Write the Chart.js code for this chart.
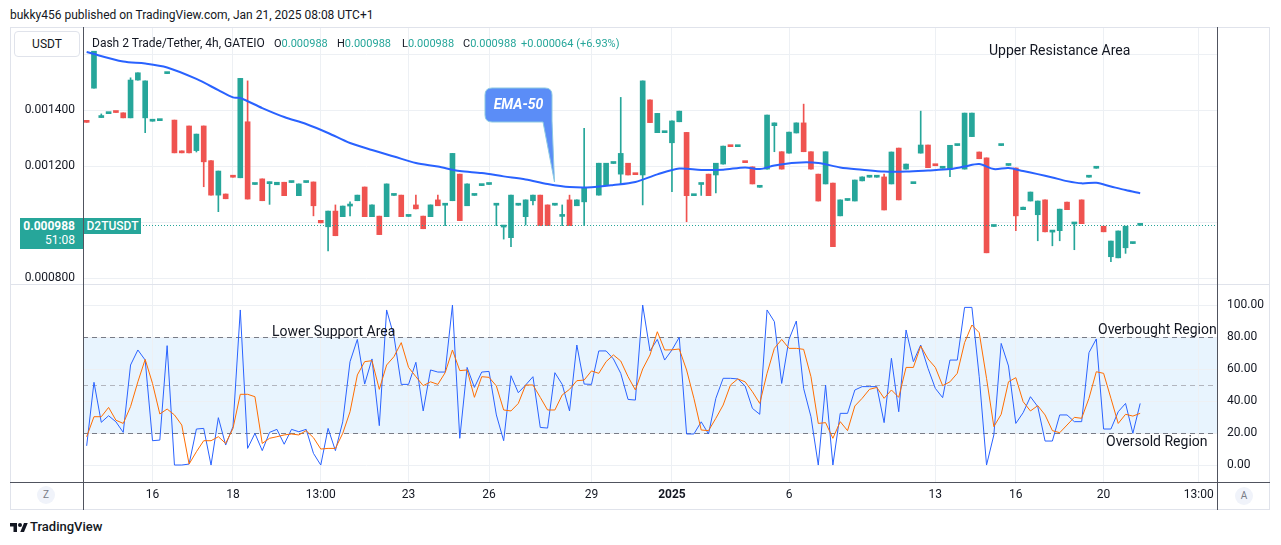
<!DOCTYPE html>
<html lang="en">
<head>
<meta charset="utf-8">
<title>D2TUSDT 4h</title>
<script src="https://cdn.jsdelivr.net/npm/chart.js@4.4.1/dist/chart.umd.min.js"></script>
<style>
  html, body { margin: 0; padding: 0; background: #fff; }
  body { position: relative; width: 1281px; height: 545px; overflow: hidden;
         font-family: Roboto, "Noto Sans", Arial, sans-serif; color: #131722; }
  .abs { position: absolute; white-space: nowrap; }
  canvas { position: absolute; }
  .ln { position: absolute; }
  .title { left: 10px; top: 7px; font-size: 12px; line-height: 16px; }
  .usdt { left: 14px; top: 31px; width: 64px; height: 24px; border: 1px solid #e0e3eb; border-radius: 4px;
          background: #fff; font-size: 12px; line-height: 24px; text-align: center; z-index: 3; }
  .legend { top: 35px; font-size: 12px; line-height: 16px; z-index: 3; }
  .legend.val { font-size: 11px; }
  .legend b { font-weight: normal; color: #26a69a; }
  .note { font-size: 14px; line-height: 16px; z-index: 3; }
  .pill { width: 18px; height: 18px; border-radius: 50%; background: #f0f3fa; color: #787b86;
          font-size: 10px; line-height: 18px; text-align: center; z-index: 3; }
  .last { left: 20px; top: 218px; width: 55px; height: 30px; padding-right: 8px; background: #26a69a;
          color: #fff; text-align: right; font-size: 12px; line-height: 14px; padding-top: 1px; box-sizing: content-box; z-index: 3; }
  .sym { left: 84px; top: 218px; width: 57px; height: 16px; background: #26a69a; color: #fff;
         font-size: 12px; font-weight: 500; line-height: 16px; text-align: center; z-index: 3; }
  .foot { left: 30px; top: 519px; font-size: 13px; font-weight: 500; line-height: 16px; }
</style>
</head>
<body>

<div class="abs title">bukky456 published on TradingView.com, Jan 21, 2025 08:08 UTC+1</div>

<canvas id="price" width="1260" height="256" style="left:10px;top:28px"></canvas>
<canvas id="stoch" width="1260" height="225" style="left:10px;top:285px"></canvas>

<!-- frame and axis lines -->
<div class="ln" style="left:10px;top:27px;width:1260px;height:1px;background:#e0e3eb"></div>
<div class="ln" style="left:10px;top:509px;width:1260px;height:1px;background:#e0e3eb"></div>
<div class="ln" style="left:10px;top:27px;width:1px;height:483px;background:#e0e3eb"></div>
<div class="ln" style="left:1269px;top:27px;width:1px;height:483px;background:#e0e3eb"></div>
<div class="ln" style="left:10px;top:284px;width:1260px;height:1px;background:#e0e3eb"></div>
<div class="ln" style="left:83px;top:27px;width:1px;height:483px;background:#50535e"></div>
<div class="ln" style="left:1217px;top:27px;width:1px;height:483px;background:#50535e"></div>
<div class="ln" style="left:10px;top:482px;width:1260px;height:1px;background:#50535e"></div>

<div class="abs usdt">USDT</div>
<div class="abs legend" style="left:92px">Dash 2 Trade/Tether, 4h, GATEIO</div>
<div class="abs legend val" style="left:274px;top:35.5px">O<b>0.000988</b></div>
<div class="abs legend val" style="left:337px;top:35.5px">H<b>0.000988</b></div>
<div class="abs legend val" style="left:402px;top:35.5px">L<b>0.000988</b></div>
<div class="abs legend val" style="left:463px;top:35.5px">C<b>0.000988</b></div>
<div class="abs legend val" style="left:521px;top:35.5px"><b>+0.000064 (+6.93%)</b></div>

<div class="abs last"><div style="font-weight:bold">0.000988</div><div>51:08</div></div>
<div class="abs sym">D2TUSDT</div>

<div class="abs note" style="left:989px;top:42px">Upper Resistance Area</div>
<div class="abs note" style="left:272px;top:323px">Lower Support Area</div>
<div class="abs note" style="left:1098px;top:321px">Overbought Region</div>
<div class="abs note" style="left:1106px;top:433px">Oversold Region</div>

<div class="abs pill" style="left:37px;top:486px">Z</div>
<div class="abs pill" style="left:1235px;top:487px">A</div>

<svg class="abs" style="left:0;top:0;z-index:2" width="1281" height="545">
  <path d="M492,88 H545 Q552,88 552,95 V121 L554.5,182 L543,122 H492 Q485,122 485,115 V95 Q485,88 492,88 Z"
        fill="#5b8df7" stroke="#8cc9e2" stroke-width="1"/>
  <text x="518.5" y="109" fill="#fff" font-family="Roboto, sans-serif" font-size="14" font-weight="bold"
        font-style="italic" text-anchor="middle">EMA-50</text>
  <g transform="translate(10,521) scale(0.5)" fill="#131722">
    <path d="M14 22H7V11H0V4h14z"/><circle cx="20" cy="8" r="4"/><path d="M28 22h-7.5l7.5-18h7.5z"/>
  </g>
</svg>
<div class="abs foot">TradingView</div>

<script>
// time axis: [bar slot, label]
const timeTicks = [[9,'16'],[20,'18'],[32,'13:00'],[44,'23'],[55,'26'],[69,'29'],[80,'2025'],[96,'6'],[116,'13'],[127,'16'],[139,'20'],[152,'13:00']];

// 4h candles, D2T/USDT (slot 69 has no bar)
const open = [
  0.001359,0.001478,0.001373,0.001387,0.001393,0.001390,0.001372,0.001507,0.001372,0.001360,
  0.001362,0.001530,0.001364,0.001254,0.001343,0.001255,0.001343,0.001219,0.001096,0.001100,
  0.001162,0.001158,0.001358,0.001134,0.001154,0.001137,0.001133,0.001142,0.001141,0.001094,
  0.001141,0.001143,0.001006,0.000983,0.001039,0.001019,0.001057,0.001076,0.001125,0.001019,
  0.001021,0.001019,0.001095,0.001096,0.001020,0.001061,0.001021,0.001019,0.001079,0.001060,
  0.001076,0.001171,0.001058,0.001095,0.001130,0.001134,0.001060,0.000982,0.000944,0.001060,
  0.001019,0.001076,0.001096,0.001061,0.001060,0.001020,0.001079,0.001058,0.001072,null,
  0.001096,0.001130,0.001209,0.001171,0.001210,0.001171,0.001168,0.001436,0.001319,0.001319,
  0.001283,0.001358,0.001320,0.001094,0.001134,0.001171,0.001168,0.001207,0.001271,0.001269,
  0.001214,0.001197,0.001124,0.001189,0.001344,0.001251,0.001246,0.001318,0.001354,0.001251,
  0.001171,0.001136,0.001139,0.001022,0.001077,0.001075,0.001147,0.001160,0.001160,0.001161,
  0.001136,0.001264,0.001189,0.001137,0.001246,0.001275,0.001203,0.001192,0.001189,0.001273,
  0.001189,0.001305,0.001250,0.001229,0.000984,0.001273,0.001202,0.001193,0.001044,0.001075,
  0.001026,0.001079,0.000964,0.000969,0.001071,0.000993,0.001079,0.001160,0.001192,0.000985,
  0.000876,0.000872,0.000908,0.000923,0.000988
];
const high = [
  0.001359,0.001610,0.001386,0.001389,0.001393,0.001390,0.001515,0.001533,0.001504,0.001362,
  0.001364,0.001532,0.001364,0.001254,0.001343,0.001314,0.001343,0.001219,0.001182,0.001100,
  0.001162,0.001513,0.001504,0.001136,0.001154,0.001143,0.001142,0.001142,0.001143,0.001136,
  0.001143,0.001143,0.001006,0.001039,0.001061,0.001057,0.001072,0.001096,0.001125,0.001061,
  0.001021,0.001136,0.001097,0.001096,0.001022,0.001096,0.001021,0.001061,0.001096,0.001062,
  0.001245,0.001171,0.001136,0.001097,0.001132,0.001136,0.001062,0.000984,0.001096,0.001062,
  0.001079,0.001096,0.001096,0.001061,0.001062,0.001061,0.001096,0.001079,0.001335,null,
  0.001210,0.001210,0.001211,0.001445,0.001210,0.001171,0.001504,0.001436,0.001388,0.001321,
  0.001361,0.001396,0.001320,0.001096,0.001136,0.001171,0.001210,0.001271,0.001271,0.001271,
  0.001214,0.001197,0.001126,0.001382,0.001354,0.001251,0.001321,0.001354,0.001421,0.001251,
  0.001171,0.001251,0.001139,0.001079,0.001079,0.001150,0.001161,0.001162,0.001162,0.001171,
  0.001250,0.001264,0.001207,0.001139,0.001396,0.001275,0.001203,0.001194,0.001274,0.001275,
  0.001389,0.001389,0.001250,0.001229,0.000986,0.001275,0.001204,0.001193,0.001053,0.001107,
  0.001075,0.001079,0.000966,0.001046,0.001071,0.000995,0.001079,0.001162,0.001194,0.000985,
  0.000932,0.000968,0.000985,0.000924,0.000988
];
const low = [
  0.001356,0.001478,0.001373,0.001387,0.001391,0.001372,0.001372,0.001507,0.001319,0.001360,
  0.001362,0.001530,0.001247,0.001247,0.001247,0.001250,0.001126,0.001096,0.001037,0.001083,
  0.001160,0.001158,0.001082,0.001134,0.001076,0.001063,0.001133,0.001094,0.001141,0.001094,
  0.001141,0.001022,0.000997,0.000897,0.000951,0.001019,0.001022,0.001076,0.001019,0.001019,
  0.000955,0.001019,0.001095,0.001019,0.001020,0.001047,0.000976,0.001019,0.001058,0.000987,
  0.001076,0.001005,0.001058,0.001095,0.001130,0.001134,0.000987,0.000939,0.000912,0.001060,
  0.000989,0.001061,0.000987,0.000987,0.001060,0.000987,0.000987,0.001058,0.000987,null,
  0.001096,0.001130,0.001209,0.001136,0.001168,0.001169,0.001061,0.001355,0.001319,0.001319,
  0.001108,0.001358,0.001001,0.001094,0.001095,0.001094,0.001104,0.001207,0.001269,0.001269,
  0.001212,0.001136,0.001124,0.001189,0.001251,0.001189,0.001246,0.001318,0.001251,0.001189,
  0.001075,0.001136,0.000912,0.001022,0.001077,0.001075,0.001147,0.001160,0.001160,0.001043,
  0.001136,0.001079,0.001189,0.001137,0.001246,0.001194,0.001201,0.001192,0.001162,0.001273,
  0.001189,0.001305,0.001226,0.000890,0.000984,0.001273,0.001202,0.000969,0.001044,0.001075,
  0.000933,0.000965,0.000915,0.000933,0.001044,0.000901,0.000994,0.001160,0.001192,0.000965,
  0.000858,0.000872,0.000888,0.000923,0.000988
];
const close = [
  0.001356,0.001610,0.001375,0.001389,0.001391,0.001372,0.001507,0.001533,0.001504,0.001362,
  0.001364,0.001532,0.001247,0.001247,0.001247,0.001314,0.001215,0.001096,0.001182,0.001083,
  0.001160,0.001513,0.001082,0.001136,0.001076,0.001139,0.001142,0.001094,0.001143,0.001136,
  0.001143,0.001058,0.000997,0.001039,0.000951,0.001057,0.001059,0.001096,0.001019,0.001061,
  0.000955,0.001136,0.001097,0.001019,0.001022,0.001047,0.000976,0.001061,0.001058,0.001062,
  0.001245,0.001005,0.001136,0.001097,0.001132,0.001136,0.001062,0.000984,0.001096,0.001062,
  0.001079,0.001096,0.000987,0.000987,0.001062,0.001022,0.000987,0.001079,0.001122,null,
  0.001210,0.001210,0.001211,0.001245,0.001168,0.001169,0.001504,0.001355,0.001388,0.001321,
  0.001361,0.001396,0.001094,0.001096,0.001136,0.001094,0.001210,0.001271,0.001269,0.001271,
  0.001212,0.001136,0.001126,0.001382,0.001354,0.001189,0.001321,0.001354,0.001251,0.001189,
  0.001075,0.001251,0.000912,0.001079,0.001079,0.001150,0.001161,0.001162,0.001162,0.001043,
  0.001250,0.001079,0.001207,0.001139,0.001275,0.001194,0.001201,0.001194,0.001274,0.001275,
  0.001389,0.001389,0.001226,0.000890,0.000986,0.001275,0.001204,0.001022,0.001053,0.001107,
  0.001075,0.000965,0.000966,0.001046,0.001044,0.000995,0.000994,0.001162,0.001194,0.000965,
  0.000932,0.000968,0.000985,0.000924,0.000988
];

// EMA-50 read at these bar slots
const emaSlots = [0,5,8,11,15,18,20,21,24,27,30,33,36,39,42,45,48,51,54,57,60,63,66,69,72,75,78,81,84,87,90,92,94,97,100,103,106,109,112,115,118,120,122,124,126,128,130,132,134,136,138,140,142,144];
const emaValues = [
  0.001607,0.001573,0.001566,0.001552,0.001511,0.001471,0.001445,0.001443,0.001407,0.001375,
  0.001350,0.001318,0.001282,0.001257,0.001234,0.001211,0.001198,0.001182,0.001175,0.001163,
  0.001152,0.001136,0.001125,0.001124,0.001132,0.001143,0.001170,0.001191,0.001186,0.001187,
  0.001195,0.001189,0.001202,0.001212,0.001211,0.001195,0.001187,0.001180,0.001180,0.001184,
  0.001189,0.001198,0.001207,0.001189,0.001193,0.001182,0.001171,0.001159,0.001146,0.001138,
  0.001140,0.001127,0.001114,0.001103
];

// stochastic oscillator, one value per bar slot
const stochK = [
  12,51.7,26.7,30.8,27,20.4,62.5,71.9,65.6,15.2,
  15.6,74.6,0,0,0.6,22.5,22.9,0,29.6,12.5,
  24,96.9,10.4,19.8,9,20.4,22.3,13,22.3,20.8,
  22.3,7.3,0,22.9,9,27,64.6,78.5,50.6,66.3,
  24.6,96.9,80.6,50.4,50.4,64.2,33.8,59.4,58.1,58.1,
  100,16.7,61,48.5,58.1,58.5,31.3,15.2,55.8,45.2,
  50,55.2,23.5,23.1,57.7,50.4,33.8,75,50.6,50.4,
  71.3,71.3,66.3,57.3,41,40.6,100,71.3,78.5,65.6,
  71.9,79.8,19.4,19.4,27,19.4,41.7,54.2,54.2,53.8,
  49.4,35.4,31.7,96.9,89.6,51,78.5,90,47.9,30.2,
  0,50,0,32.3,32.3,46.9,49,49,49,26.5,
  66.7,33.3,84.4,64.6,75,60.4,47.9,42.1,65.6,65.6,
  98.5,98.5,55.2,0,18.8,76,61.9,26,32.7,42.7,
  36.5,15,15,31.3,31.3,27.1,27.1,70.2,78.8,22.5,
  22.5,33.3,38.5,19.8,38.5
];
const stochD = [
  17.7,30.2,30.2,36,28,26,36.5,52,66,51,
  31.9,35,31.3,25,0.6,8.3,15.2,15.2,17.7,13.5,
  22.9,44.2,44.2,42.7,13.5,16.7,17.7,18.8,19.4,18.8,
  21.5,17.1,10,10.4,10.4,19.8,33.3,56.3,64.6,65.2,
  47.3,62.5,67.7,76.5,61,55.2,49.6,52,50.4,57.7,
  71.9,59,59.4,42.3,55.2,54.8,49.4,34.4,33.8,38.5,
  50,50,42.3,34.4,34.4,43.8,47.3,52.7,53.1,58.8,
  57.3,64.6,68.8,65,55.2,46.9,60,68.8,83.3,71.9,
  72,72.5,59.4,41.7,21.9,21.5,29.2,37.5,50,53.8,
  52,45.8,38.5,57.3,72.9,78.5,72.9,72.9,72.3,55.2,
  26,26.5,16.7,27.1,21.5,36.9,41.7,47.3,48.5,41.7,
  46.9,42.3,61,61,74.4,66.3,61,49.6,52,57.3,
  76.5,87.5,82.7,54.2,24,31.7,52,54.6,39.6,33.8,
  37.1,31.3,21.5,20.2,25,29.8,29.2,41.7,58.3,57.3,
  41.7,26,31.7,30.6,32.3
];

const priceTicks = [0.0008, 0.0010, 0.0012, 0.0014, 0.0016];
const priceTickText = ['0.000800', '', '0.001200', '0.001400', ''];
const stochTicks = [0, 20, 40, 60, 80, 100];
const stochLevels = [80, 50, 20];

const SLOTS = 155;              // bars that fit the visible range, incl. right margin
const UP = '#26a69a', DOWN = '#ef5350';
const GRID = '#edf0f4';

Chart.defaults.font.family = 'Roboto, "Noto Sans", sans-serif';
Chart.defaults.color = '#131722';

const labels = Array.from({length: SLOTS}, () => '');
timeTicks.forEach(([i, t]) => { labels[i] = t; });
const tickSlots = timeTicks.map(t => t[0]);

const bodies = open.map((o, i) => o == null ? null : [o, close[i]]);
const wicks = open.map((o, i) => o == null ? null : [low[i], high[i]]);
const colors = open.map((o, i) => close[i] >= o ? UP : DOWN);

const emaData = labels.map(() => null);
emaSlots.forEach((s, i) => { emaData[s] = emaValues[i]; });

const lastClose = close[close.length - 1];

function timeAxis(showLabels){
  return {
    offset: true,
    grid: { offset: false, color: GRID, drawTicks: false },
    border: { display: false },
    ticks: {
      display: showLabels, autoSkip: false, maxRotation: 0, padding: 6,
      font: ctx => ({ size: 12, weight: ctx.tick && ctx.tick.label === '2025' ? 'bold' : 'normal' })
    },
    afterBuildTicks: s => { s.ticks = tickSlots.map(v => ({ value: v })); },
    afterFit: s => { s.height = showLabels ? 28 : 0; s.paddingLeft = 0; s.paddingRight = 0; }
  };
}

// dotted line at the last close
const lastPriceLine = {
  id: 'lastPriceLine',
  afterDatasetsDraw(c){
    const {ctx, chartArea, scales} = c;
    const y = Math.round(scales.y.getPixelForValue(lastClose)) + 0.5;
    ctx.save();
    ctx.strokeStyle = UP;
    ctx.lineWidth = 1;
    ctx.setLineDash([1, 2]);
    ctx.beginPath();
    ctx.moveTo(chartArea.left, y);
    ctx.lineTo(chartArea.right, y);
    ctx.stroke();
    ctx.restore();
  }
};

// shaded 20-80 band and dashed level lines
const stochBands = {
  id: 'stochBands',
  beforeDraw(c){
    const {ctx, chartArea: a, scales: {y}} = c;
    const top = y.getPixelForValue(stochLevels[0]);
    const bot = y.getPixelForValue(stochLevels[2]);
    ctx.save();
    ctx.fillStyle = 'rgba(33,150,243,0.1)';
    ctx.fillRect(a.left, top, a.right - a.left, bot - top);
    ctx.restore();
  },
  beforeDatasetsDraw(c){
    const {ctx, chartArea: a, scales: {y}} = c;
    ctx.save();
    ctx.lineWidth = 1;
    ctx.setLineDash([5, 4]);
    stochLevels.forEach(v => {
      const py = Math.round(y.getPixelForValue(v)) + 0.5;
      ctx.strokeStyle = v === 50 ? '#b2b5be' : '#787b86';
      ctx.beginPath();
      ctx.moveTo(a.left, py);
      ctx.lineTo(a.right, py);
      ctx.stroke();
    });
    ctx.restore();
  }
};

new Chart(document.getElementById('price'), {
  type: 'bar',
  data: {
    labels,
    datasets: [
      { type: 'line', label: 'EMA-50', data: emaData, borderColor: '#2962ff', borderWidth: 2,
        pointRadius: 0, spanGaps: true, tension: 0.3, order: 0 },
      { label: 'body', data: bodies, backgroundColor: colors, barThickness: 5, minBarLength: 2,
        grouped: false, order: 1 },
      { label: 'wick', data: wicks, backgroundColor: colors, barThickness: 1, grouped: false, order: 2 }
    ]
  },
  options: {
    responsive: false,
    animation: false,
    layout: { padding: { left: 0, right: 53, top: 0, bottom: 0 } },
    plugins: { legend: { display: false }, tooltip: { enabled: false } },
    scales: {
      x: timeAxis(false),
      y: {
        position: 'left',
        min: 0.0007786,
        max: 0.0016929,
        grid: { color: GRID, drawTicks: false },
        border: { display: false },
        ticks: { padding: 8, font: { size: 12 }, callback: (v, i) => priceTickText[i] },
        afterBuildTicks: s => { s.ticks = priceTicks.map(v => ({ value: v })); },
        afterFit: s => { s.width = 73; s.paddingTop = 0; s.paddingBottom = 0; }
      }
    }
  },
  plugins: [lastPriceLine]
});

new Chart(document.getElementById('stoch'), {
  type: 'line',
  data: {
    labels,
    datasets: [
      { label: '%D', data: stochD, borderColor: '#ff6d00', borderWidth: 1, pointRadius: 0, tension: 0, order: 0 },
      { label: '%K', data: stochK, borderColor: '#2962ff', borderWidth: 1, pointRadius: 0, tension: 0, order: 1 }
    ]
  },
  options: {
    responsive: false,
    animation: false,
    layout: { padding: { left: 73, right: 0, top: 0, bottom: 0 } },
    plugins: { legend: { display: false }, tooltip: { enabled: false } },
    scales: {
      x: timeAxis(true),
      y: {
        position: 'right',
        min: -10.6,
        max: 112.5,
        grid: { color: GRID, drawTicks: false },
        border: { display: false },
        ticks: { padding: 10, font: { size: 12 }, callback: v => v.toFixed(2) },
        afterBuildTicks: s => { s.ticks = stochTicks.map(v => ({ value: v })); },
        afterFit: s => { s.width = 53; s.paddingTop = 0; s.paddingBottom = 0; }
      }
    }
  },
  plugins: [stochBands]
});
</script>
</body>
</html>
